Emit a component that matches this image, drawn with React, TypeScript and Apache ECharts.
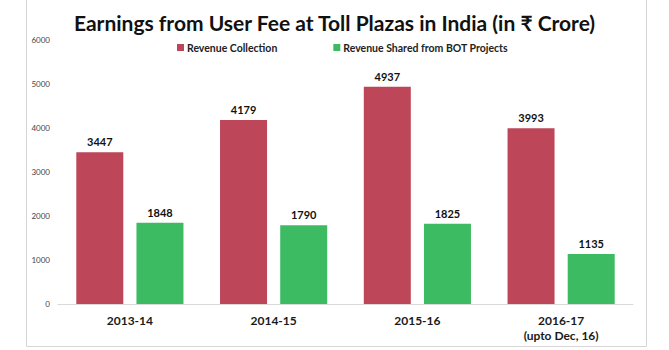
import React, { useEffect, useRef } from "react";
import * as echarts from "echarts";

const categories = ["2013-14", "2014-15", "2015-16", "2016-17\n(upto Dec, 16)"];
const revenueCollection = [3447, 4179, 4937, 3993];
const revenueShared = [1848, 1790, 1825, 1135];
const yTicks = [0, 1000, 2000, 3000, 4000, 5000, 6000];

const FONT = "Lato";

export default function App() {
  const ref = useRef<HTMLDivElement>(null);
  useEffect(() => {
    if (!ref.current) return;
    const chart = echarts.init(ref.current, null, { renderer: "svg" });
    const valueLabel = {
      show: true,
      position: "top",
      distance: 5,
      fontFamily: FONT,
      fontWeight: "bold",
      fontSize: 11,
      color: "#111111",
    };
    chart.setOption({
      animation: false,
      backgroundColor: "#ffffff",
      textStyle: { fontFamily: FONT },
      title: {
        text: "Earnings from User Fee at Toll Plazas in India (in ₹ Crore)",
        left: "center",
        top: 7,
        textStyle: { fontFamily: FONT, fontWeight: "bold", fontSize: 21, color: "#111111" },
      },
      legend: {
        top: 37,
        left: 172,
        itemWidth: 7,
        itemHeight: 7,
        itemGap: 56,
        icon: "rect",
        textStyle: { fontFamily: FONT, fontSize: 10.5, fontWeight: "bold", color: "#222222", padding: [0, 0, 0, -2] },
        data: ["Revenue Collection", "Revenue Shared from BOT Projects"],
      },
      graphic: [
        { type: "line", shape: { x1: 26.5, y1: 0, x2: 26.5, y2: 346.5 }, style: { stroke: "#d6d6d6", lineWidth: 1 } },
        { type: "line", shape: { x1: 646.5, y1: 0, x2: 646.5, y2: 346.5 }, style: { stroke: "#d6d6d6", lineWidth: 1 } },
        { type: "line", shape: { x1: 26.5, y1: 346.5, x2: 646.5, y2: 346.5 }, style: { stroke: "#d6d6d6", lineWidth: 1 } },
      ],
      grid: { left: 58, right: 36, top: 40, bottom: 46, containLabel: false },
      xAxis: {
        type: "category",
        data: categories,
        axisLine: { show: true, lineStyle: { color: "#d9d9d9", width: 1 } },
        axisTick: { show: false },
        axisLabel: {
          fontFamily: FONT,
          fontWeight: "bold",
          fontSize: 12,
          color: "#1a1a1a",
          margin: 9,
          lineHeight: 15,
        },
      },
      yAxis: {
        type: "value",
        min: yTicks[0],
        max: yTicks[yTicks.length - 1],
        interval: 1000,
        axisLine: { show: false },
        axisTick: { show: false },
        splitLine: { show: false },
        axisLabel: {
          fontFamily: FONT,
          fontSize: 8,
          color: "#444444",
          margin: 8,
          formatter: (v: number) => String(v),
        },
      },
      series: [
        {
          name: "Revenue Collection",
          type: "bar",
          data: revenueCollection,
          barWidth: 47,
          barGap: "28%",
          itemStyle: { color: "#bd4658" },
          label: valueLabel,
        },
        {
          name: "Revenue Shared from BOT Projects",
          type: "bar",
          data: revenueShared,
          barWidth: 47,
          barGap: "28%",
          itemStyle: { color: "#3dbb62" },
          label: valueLabel,
        },
      ],
    });
    return () => chart.dispose();
  }, []);
  return <div ref={ref} style={{ width: 669, height: 350, position: "absolute", left: 0, top: 0 }} />;
}
